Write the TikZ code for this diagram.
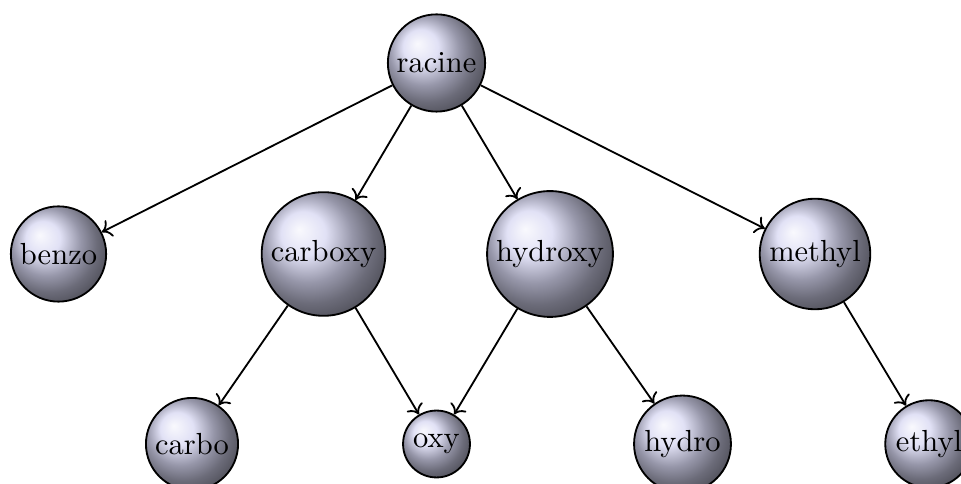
\documentclass[tikz,border=0pt]{standalone}
\usetikzlibrary{arrows.meta}
\definecolor{ballc}{RGB}{215,215,242}
\begin{document}
\begin{tikzpicture}[x=0.32787pt,y=-0.32787pt,
  ballnode/.style={circle,draw,semithick,ball color=ballc,inner sep=2pt,font=\fontsize{10}{12}\selectfont},
  edgearr/.style={semithick,-{To[length=3pt,width=6pt]}}]
\useasboundingbox (0,0) rectangle (961,484);
\node[ballnode] (racine) at (436.5,63) {racine};
\node[ballnode] (benzo) at (58.5,254) {benzo};
\node[ballnode] (carboxy) at (323.5,254) {carboxy};
\node[ballnode] (hydroxy) at (550,254) {hydroxy};
\node[ballnode] (methyl) at (815,254) {methyl};
\node[ballnode] (carbo) at (192,444) {carbo};
\node[ballnode] (oxy) at (436.5,444) {oxy};
\node[ballnode] (hydro) at (682.5,444) {hydro};
\node[ballnode] (ethyl) at (929,444) {ethyl};
\draw[edgearr] (racine) -- (benzo);
\draw[edgearr] (racine) -- (carboxy);
\draw[edgearr] (racine) -- (hydroxy);
\draw[edgearr] (racine) -- (methyl);
\draw[edgearr] (carboxy) -- (carbo);
\draw[edgearr] (carboxy) -- (oxy);
\draw[edgearr] (hydroxy) -- (oxy);
\draw[edgearr] (hydroxy) -- (hydro);
\draw[edgearr] (methyl) -- (ethyl);
\end{tikzpicture}
\end{document}
